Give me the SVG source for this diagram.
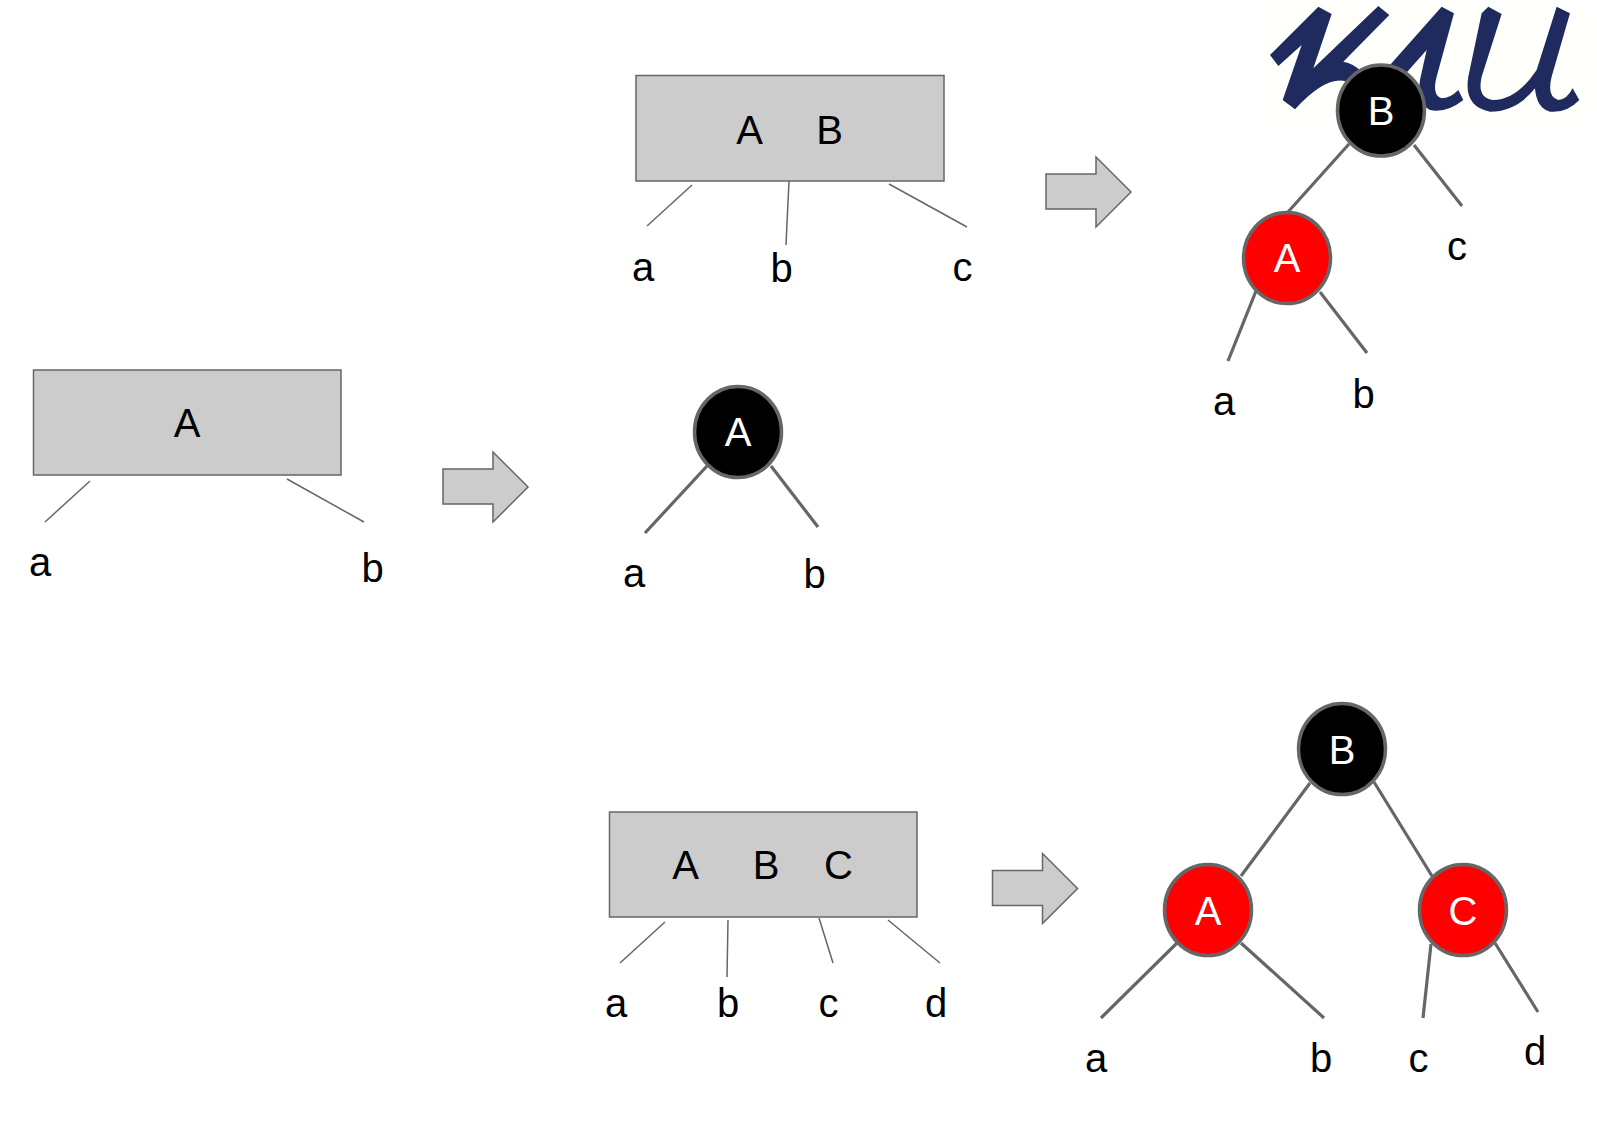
<svg xmlns="http://www.w3.org/2000/svg" width="1597" height="1129" viewBox="0 0 1597 1129">
<style>
text{font-family:"Liberation Sans",Arial,sans-serif;font-size:40px;text-anchor:middle;fill:#000}
.box{fill:#ccc;stroke:#666;stroke-width:1.5}
.thin{stroke:#666;stroke-width:1.5;fill:none}
.thick{stroke:#666;stroke-width:3.200;fill:none}
.b{fill:#000;stroke:#666;stroke-width:3.5}
.r{fill:#f00;stroke:#666;stroke-width:3.5}
.w{fill:#fff}
.logo{fill:#1f2b5e;stroke:none}
</style>
<defs><path id="arr" class="box" d="M443 469H493V452L528 487L493 522V504H443Z"/></defs>
<rect width="1597" height="1129" fill="#fff"/>
<g id="logo">
<rect x="1258" y="5" width="334" height="115" fill="#fffffb"/>
<g transform="translate(1250 0) scale(.3333)">
<path class="logo" d="M60 165L205 20L245 42L190 205L385 18L418 45L280 185Q310 190 335 215L290 245Q230 225 135 328L98 300L155 135L85 198Z"/>
<path class="logo" d="M420 195L575 20L612 40L560 230Q545 285 575 295Q600 295 625 270L640 300Q590 340 540 330Q500 310 510 240L530 150L450 240Z"/>
<path class="logo" d="M695 40L715 20L755 42L695 230Q680 295 730 300Q800 300 860 210L920 20L960 40L905 230Q890 290 925 300Q950 300 968 265L988 300Q950 340 900 335Q860 325 855 265Q800 335 720 335Q640 320 655 230Z"/>
</g>
</g>
<g id="connectors">
<path class="thin" d="M692 185L647 226M789 181L786 245M889 184L967 227"/>
<path class="thin" d="M90 481L45 522M287 479L364 522"/>
<path class="thin" d="M665 922L620 963M728 920L727 977M819 918L833 963M888 920L940 963"/>
<path class="thick" d="M1349 144L1288 212M1414 145L1462 206M1256 291L1228 361M1320 292L1367 353"/>
<path class="thick" d="M707 466L645 533M771 466L818 527"/>
<path class="thick" d="M1310 783L1241 876M1374 782L1432 876M1177 943L1101 1018M1241 943L1324 1018M1431 944L1423 1018M1495 943L1538 1012"/>
</g>
<g id="box-ab"><rect class="box" x="636" y="75.500" width="308" height="105.500"/><text x="749.500" y="144">A</text><text x="829.500" y="143.500">B</text></g>
<g id="box-a"><rect class="box" x="33.500" y="370" width="307.500" height="105"/><text x="187" y="437">A</text></g>
<g id="box-abc"><rect class="box" x="609.500" y="812" width="307.500" height="105"/><text x="685.500" y="879">A</text><text x="766" y="879">B</text><text x="838.500" y="879">C</text></g>
<g id="arrow-1"><use href="#arr" x="603" y="-295"/></g>
<g id="arrow-2"><use href="#arr" x="0" y="0"/></g>
<g id="arrow-3"><use href="#arr" x="549.500" y="401.500"/></g>
<g id="node-top-b"><ellipse class="b" cx="1381" cy="110.500" rx="43.500" ry="45.500"/><text class="w" x="1381" y="125">B</text></g>
<g id="node-top-a"><ellipse class="r" cx="1287" cy="258" rx="43.500" ry="45.500"/><text class="w" x="1287" y="272">A</text></g>
<g id="node-mid-a"><ellipse class="b" cx="738" cy="432" rx="43.500" ry="45.500"/><text class="w" x="738" y="446">A</text></g>
<g id="node-bot-b"><ellipse class="b" cx="1342" cy="749" rx="43.500" ry="45.500"/><text class="w" x="1342" y="764">B</text></g>
<g id="node-bot-a"><ellipse class="r" cx="1208" cy="910" rx="43.500" ry="45.500"/><text class="w" x="1208" y="924.500">A</text></g>
<g id="node-bot-c"><ellipse class="r" cx="1463" cy="910" rx="43.500" ry="45.500"/><text class="w" x="1463" y="924.500">C</text></g>
<g id="labels">
<text x="643" y="281">a</text><text x="781.500" y="281.500">b</text><text x="962.500" y="281">c</text>
<text x="1457" y="259.500">c</text><text x="1224" y="415">a</text><text x="1363.500" y="407.500">b</text>
<text x="40" y="575.500">a</text><text x="372.500" y="581.500">b</text>
<text x="634" y="587">a</text><text x="814.500" y="587.500">b</text>
<text x="616" y="1017">a</text><text x="728" y="1017">b</text><text x="828.500" y="1017">c</text><text x="936" y="1017">d</text>
<text x="1096" y="1072">a</text><text x="1321" y="1072">b</text><text x="1418.500" y="1072">c</text><text x="1535" y="1065">d</text>
</g>
</svg>
